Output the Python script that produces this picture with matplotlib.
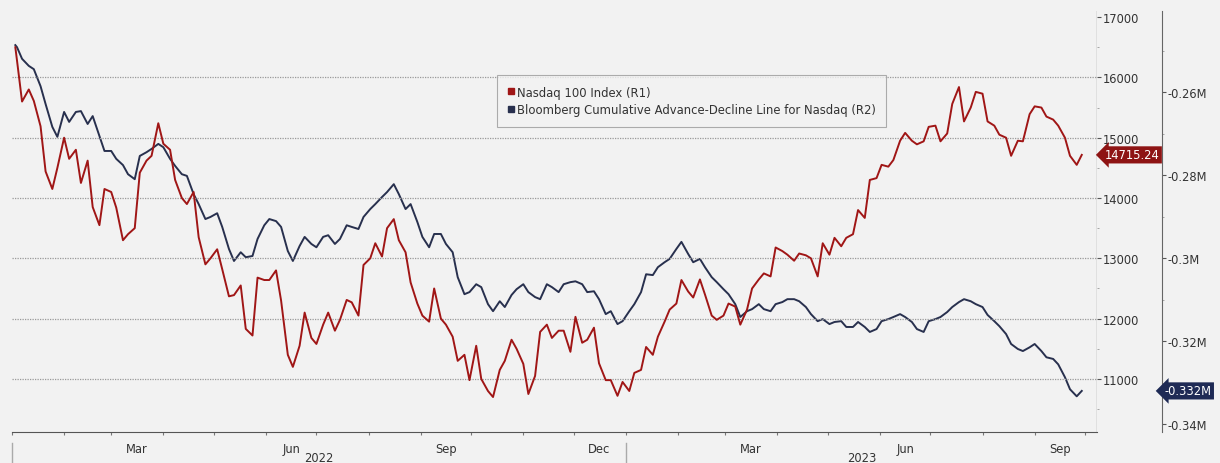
import datetime as dt

import matplotlib
matplotlib.use("Agg")
import matplotlib.dates as mdates
import matplotlib.pyplot as plt
import matplotlib.transforms as mtransforms
from matplotlib.lines import Line2D
from matplotlib.ticker import FixedLocator, MultipleLocator, NullFormatter
import numpy as np
import pandas as pd

# sample dates: first session, then every Tuesday and Friday up to the last close
dates = pd.DatetimeIndex([pd.Timestamp("2022-01-03")]).append(
    pd.date_range("2022-01-04", "2023-09-29", freq="W-TUE")
    .union(pd.date_range("2022-01-04", "2023-09-29", freq="W-FRI")))

# Nasdaq 100 Index (R1)
nasdaq = [
    # 2022 Jan
    16500, 16280, 15600, 15800, 15610, 15190, 14440, 14150, 14500,
    # Feb
    15000, 14650, 14800, 14250, 14620, 13850, 13550, 14150,
    # Mar
    14100, 13840, 13300, 13400, 13500, 14420, 14620, 14700, 15240,
    # Apr
    14900, 14800, 14300, 14000, 13900, 14100, 13350, 12900, 13000,
    # May
    13150, 12820, 12370, 12390, 12550, 11830, 11720, 12680, 12640,
    # Jun
    12640, 12800, 12300, 11400, 11200, 11550, 12100, 11680,
    # Jul
    11580, 11900, 12100, 11800, 11980, 12310, 12270, 12050, 12890,
    # Aug
    13000, 13250, 13030, 13500, 13650, 13300, 13100, 12600, 12250,
    # Sep
    12050, 11950, 12500, 12000, 11900, 11700, 11300, 11400, 10980,
    # Oct
    11550, 11000, 10800, 10700, 11150, 11300, 11650, 11500,
    # Nov
    11250, 10750, 11050, 11780, 11900, 11680, 11800, 11800, 11450,
    # Dec
    12030, 11600, 11650, 11850, 11260, 10980, 10980, 10720, 10950,
    # 2023 Jan
    10800, 11100, 11150, 11530, 11400, 11700, 11950, 12150, 12250,
    # Feb
    12640, 12450, 12350, 12650, 12400, 12050, 11980, 12050,
    # Mar
    12250, 12200, 11900, 12150, 12500, 12650, 12750, 12700, 13180,
    # Apr
    13120, 13060, 12960, 13080, 13050, 13000, 12700, 13250,
    # May
    13060, 13340, 13200, 13340, 13400, 13800, 13670, 14300, 14330,
    # Jun
    14550, 14520, 14630, 14950, 15080, 14950, 14890, 14940, 15180,
    # Jul
    15200, 14940, 15070, 15560, 15840, 15270, 15500, 15760,
    # Aug
    15730, 15270, 15200, 15050, 15000, 14700, 14950, 14940, 15390,
    # Sep
    15520, 15500, 15350, 15300, 15200, 15000, 14700, 14550, 14715.24,
]

# Bloomberg Cumulative Advance-Decline Line for Nasdaq (R2), millions
adline = [
    # 2022 Jan
    -0.2487, -0.2492, -0.2520, -0.2537, -0.2545, -0.2586, -0.2629, -0.2684, -0.2708,
    # Feb
    -0.2648, -0.2672, -0.2648, -0.2646, -0.2677, -0.2658, -0.2706, -0.2742,
    # Mar
    -0.2742, -0.2761, -0.2776, -0.2798, -0.2810, -0.2754, -0.2745, -0.2737, -0.2725,
    # Apr
    -0.2733, -0.2761, -0.2778, -0.2798, -0.2802, -0.2846, -0.2870, -0.2906, -0.2901,
    # May
    -0.2892, -0.2925, -0.2978, -0.3007, -0.2986, -0.2998, -0.2995, -0.2954, -0.2921,
    # Jun
    -0.2906, -0.2911, -0.2925, -0.2983, -0.3007, -0.2971, -0.2949, -0.2966,
    # Jul
    -0.2974, -0.2949, -0.2945, -0.2966, -0.2954, -0.2921, -0.2925, -0.2930, -0.2901,
    # Aug
    -0.2882, -0.2870, -0.2853, -0.2841, -0.2822, -0.2846, -0.2882, -0.2870, -0.2913,
    # Sep
    -0.2949, -0.2974, -0.2942, -0.2942, -0.2966, -0.2986, -0.3046, -0.3087, -0.3082,
    # Oct
    -0.3063, -0.3070, -0.3111, -0.3128, -0.3104, -0.3118, -0.3089, -0.3075,
    # Nov
    -0.3063, -0.3082, -0.3094, -0.3099, -0.3063, -0.3070, -0.3082, -0.3063, -0.3058,
    # Dec
    -0.3056, -0.3063, -0.3082, -0.3080, -0.3099, -0.3135, -0.3128, -0.3159, -0.3152,
    # 2023 Jan
    -0.3128, -0.3111, -0.3082, -0.3039, -0.3041, -0.3022, -0.3010, -0.3002, -0.2978,
    # Feb
    -0.2961, -0.2990, -0.3010, -0.3002, -0.3022, -0.3046, -0.3058, -0.3075,
    # Mar
    -0.3087, -0.3111, -0.3142, -0.3128, -0.3123, -0.3111, -0.3123, -0.3128, -0.3111,
    # Apr
    -0.3106, -0.3099, -0.3099, -0.3104, -0.3118, -0.3135, -0.3152, -0.3147,
    # May
    -0.3159, -0.3154, -0.3152, -0.3166, -0.3166, -0.3154, -0.3166, -0.3178, -0.3171,
    # Jun
    -0.3152, -0.3147, -0.3142, -0.3135, -0.3142, -0.3154, -0.3171, -0.3178, -0.3152,
    # Jul
    -0.3147, -0.3142, -0.3130, -0.3118, -0.3106, -0.3099, -0.3104, -0.3111,
    # Aug
    -0.3118, -0.3137, -0.3152, -0.3164, -0.3183, -0.3207, -0.3219, -0.3224, -0.3215,
    # Sep
    -0.3207, -0.3224, -0.3239, -0.3243, -0.3256, -0.3287, -0.3316, -0.3333, -0.3320,
]

r1_ticks = [11000, 12000, 13000, 14000, 15000, 16000, 17000]
r2_ticks = [-0.34, -0.32, -0.30, -0.28, -0.26]
r2_labels = ["-0.34M", "-0.32M", "-0.3M", "-0.28M", "-0.26M"]
month_labels = {3: "Mar", 6: "Jun", 9: "Sep", 12: "Dec"}
years = [2022, 2023]

RED = "#a01616"
NAVY = "#28304e"
BG = "#f2f2f2"
TXT = "#333333"

assert len(dates) == len(nasdaq) == len(adline), (len(dates), len(nasdaq), len(adline))

plt.rcParams["font.family"] = ["DejaVu Sans"]
plt.rcParams["font.size"] = 8

fig = plt.figure(figsize=(12.2, 4.64), dpi=100, facecolor=BG)
ax = fig.add_axes([0.0098, 0.0668, 0.8893, 0.9072], facecolor=BG)
ax2 = ax.twinx()

x0 = dt.datetime(2022, 1, 1)
x1 = dt.datetime(2023, 10, 8)
ax.set_xlim(x0, x1)
ax.set_ylim(10120, 17100)
ax2.set_ylim(-0.3419, -0.2405)

# dotted grid at the R1 levels
for v in r1_ticks[:-1]:
    ax.axhline(v, color="#9a9a9a", lw=0.9, ls=(0, (1, 1)), zorder=0)

ax2.plot(dates, adline, color=NAVY, lw=1.4, zorder=3)
ax.plot(dates, nasdaq, color=RED, lw=1.4, zorder=4)
ax.set_zorder(ax2.get_zorder() + 1)
ax.patch.set_visible(False)

# spines
for a in (ax, ax2):
    a.spines["top"].set_visible(False)
    a.spines["left"].set_visible(False)
ax.spines["bottom"].set_color("#555555")
ax2.spines["bottom"].set_visible(False)
ax.spines["right"].set_visible(False)
ax2.spines["right"].set_color("#666666")
# 65 px to the right of the R1 axis (outward is in points)
ax2.spines["right"].set_position(("outward", 65 * 72 / 100))

# R1 on the right edge of the plot
ax.yaxis.tick_right()
ax.yaxis.set_major_locator(FixedLocator(r1_ticks))
ax.yaxis.set_minor_locator(MultipleLocator(500))
ax.tick_params(axis="y", which="major", length=3, direction="out", colors="#555555",
               labelcolor=TXT, labelsize=8.3, pad=1)
ax.tick_params(axis="y", which="minor", length=1.5, colors="#999999")
ax.axvline(x1, color="#666666", lw=0.9, zorder=5)

ax2.yaxis.set_major_locator(FixedLocator(r2_ticks))
ax2.set_yticklabels(r2_labels)
ax2.yaxis.set_minor_locator(MultipleLocator(0.01))
ax2.tick_params(axis="y", which="major", length=3, colors="#555555",
                labelcolor=TXT, labelsize=8.3, pad=1)
ax2.tick_params(axis="y", which="minor", length=1.5, colors="#999999")

# x axis: month ticks, quarter labels mid-month, year labels below
ax.xaxis.set_major_locator(mdates.MonthLocator())
ax.xaxis.set_major_formatter(NullFormatter())
ax.tick_params(axis="x", which="major", length=2.5, colors="#777777")
mids = [dt.datetime(y, m, 16) for y in years for m in month_labels
        if dt.datetime(y, m, 16) < x1]
ax.xaxis.set_minor_locator(FixedLocator(mdates.date2num(mids)))
ax.xaxis.set_minor_formatter(
    matplotlib.ticker.FuncFormatter(lambda v, p: month_labels[mdates.num2date(v).month]))
ax.tick_params(axis="x", which="minor", length=0, labelcolor=TXT, labelsize=8.3, pad=7)

blend = mtransforms.blended_transform_factory(ax.transData, ax.transAxes)
for y in years:
    start = max(dt.datetime(y, 1, 1), x0)
    end = min(dt.datetime(y + 1, 1, 1), x1)
    mid = start + (end - start) / 2
    ax.text(mid, -0.06, str(y), transform=blend, ha="center", va="center",
            fontsize=8.3, color=TXT)
    ax.plot([dt.datetime(y, 1, 1)] * 2, [-0.025, -0.075], transform=blend,
            color="#aaaaaa", lw=1, clip_on=False)

# last value tags
tag1 = mtransforms.blended_transform_factory(ax.transAxes, ax.transData)
ax.text(1.0075, nasdaq[-1], f"{nasdaq[-1]:.2f}", transform=tag1, ha="left", va="center",
        fontsize=8.3, color="white", zorder=10, clip_on=False,
        bbox=dict(boxstyle="larrow,pad=0.18", fc="#8e1414", ec="none"))
tag2 = mtransforms.blended_transform_factory(ax2.transAxes, ax2.transData)
ax2.text(1 + 68 / 1085, adline[-1], "-0.332M", transform=tag2, ha="left", va="center",
         fontsize=8.3, color="white", zorder=10, clip_on=False,
         bbox=dict(boxstyle="larrow,pad=0.18", fc="#1e2a55", ec="none"))

handles = [Line2D([], [], marker="s", ls="none", color=RED, markersize=4),
           Line2D([], [], marker="s", ls="none", color=NAVY, markersize=4)]
leg = ax.legend(handles, ["Nasdaq 100 Index (R1)",
                          "Bloomberg Cumulative Advance-Decline Line for Nasdaq (R2)"],
                loc="upper left", bbox_to_anchor=(0.447, 0.848), fontsize=8.4,
                frameon=True, fancybox=False, handlelength=0.6, handletextpad=0.2,
                borderpad=0.9, labelspacing=0.4, borderaxespad=0, labelcolor=TXT)
leg.get_frame().set_edgecolor("#9a9a9a")
leg.get_frame().set_facecolor(BG)
leg.get_frame().set_linewidth(0.8)

fig.savefig("out.png", dpi=100, facecolor=BG)
